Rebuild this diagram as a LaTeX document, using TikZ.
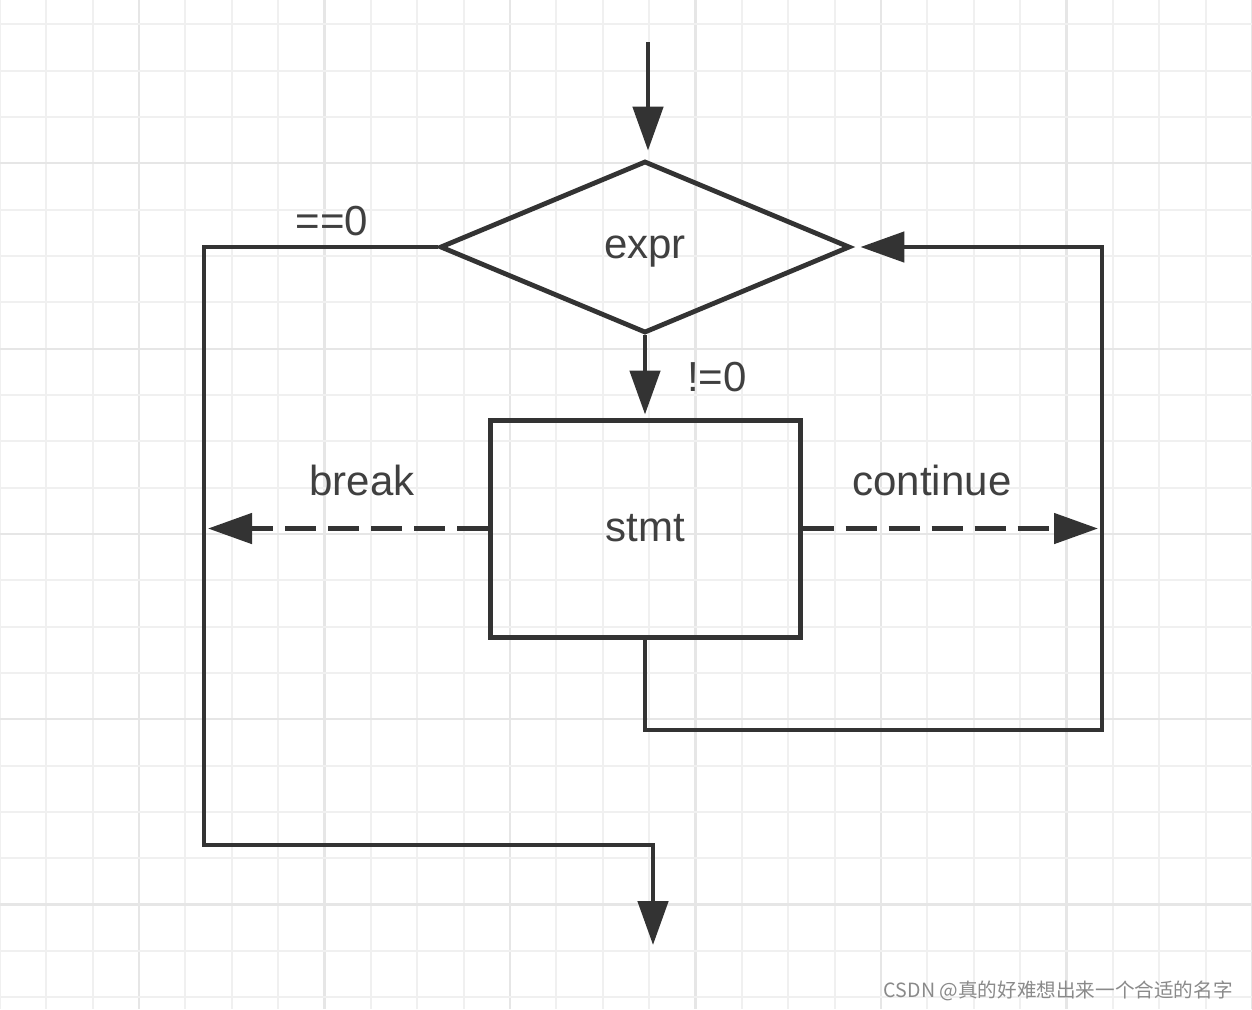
\documentclass[tikz,border=0pt]{standalone}
\usepackage{fontspec}
\setmainfont{Liberation Sans}
\newfontfamily\cjk{Noto Sans CJK SC}
\usetikzlibrary{shapes.geometric,arrows.meta,calc}
\definecolor{ink}{HTML}{333333}
\definecolor{txt}{HTML}{404040}
\definecolor{gridminor}{HTML}{F0F0F0}
\definecolor{gridmajor}{HTML}{E6E6E6}
\definecolor{wm}{HTML}{8A8A8A}
\tikzset{
  lbl/.style={font=\fontsize{21pt}{24pt}\selectfont, text=txt, inner sep=0pt},
  conn/.style={draw=ink, line width=2.4pt},
  arr/.style={conn, -{Triangle[length=22pt,width=15pt]}},
  dasharr/.style={arr, dash pattern=on 15.5pt off 6pt},
  decision/.style={diamond, draw=ink, line width=2.4pt, inner sep=0pt, aspect=2.4,
     minimum width=205pt, minimum height=86pt, lbl, text depth=0pt},
  stmtbox/.style={rectangle, draw=ink, line width=2.5pt, inner sep=0pt,
     minimum width=155pt, minimum height=108.5pt, lbl},
}
\begin{document}
\begin{tikzpicture}[x=0.5pt,y=-0.5pt]
\useasboundingbox (0,0) rectangle (1252,1009);
\fill[white] (0,0) rectangle (1252,1009);
% grid
\foreach \k in {0,...,27}{
  \pgfmathtruncatemacro{\m}{mod(\k,4)}
  \pgfmathsetmacro{\gx}{\k*46.37}
  \ifnum\m=3
    \draw[gridmajor, line width=1.1pt] (\gx,0) -- (\gx,1009);
  \else
    \draw[gridminor, line width=1pt] (\gx,0) -- (\gx,1009);
  \fi
}
\foreach \k in {0,...,21}{
  \pgfmathtruncatemacro{\m}{mod(\k,4)}
  \pgfmathsetmacro{\gy}{24.3+\k*46.33}
  \ifnum\m=3
    \draw[gridmajor, line width=1.1pt] (0,\gy) -- (1252,\gy);
  \else
    \draw[gridminor, line width=1pt] (0,\gy) -- (1252,\gy);
  \fi
}
% nodes
\node[decision] (d) at (645,247) {expr};
\node[stmtbox] (r) at (645,528.5) {stmt};
\coordinate (top) at (648,42);
\coordinate (ll) at (204,845);
\coordinate (bot) at (653,945);
\coordinate (rb) at (1102,730);
% connectors
\draw[arr, shorten >=4pt] (top) -- (top |- d.north);
\draw[arr, shorten >=1.5pt] (d.south) -- (r.north);
\draw[arr] (d.west) -| (ll) -| (bot);
\draw[dasharr, shorten >=2pt] (r.west) -- (r.west -| ll);
\draw[dasharr, shorten >=2pt] (r.east) -- (r.east -| rb);
\draw[arr, shorten >=4pt] (r.south) |- (rb) |- (d.east);
% labels
\node[lbl, anchor=base] (l0) at (332,235) {==0};
\node[lbl, anchor=base] (l1) at (717,391) {!=0};
\node[lbl, anchor=base] (lb) at (362,495) {break};
\node[lbl, anchor=base] (lc) at (932,495) {continue};
% watermark
\node[anchor=east, inner sep=0pt, text=wm, font=\cjk\fontsize{9.8pt}{11pt}\selectfont] (w) at (1233,991) {CSDN @真的好难想出来一个合适的名字};
\end{tikzpicture}
\end{document}
